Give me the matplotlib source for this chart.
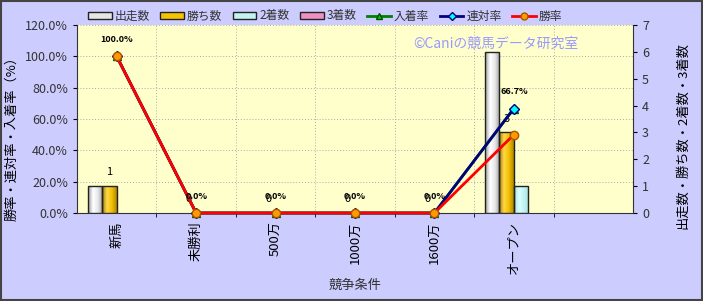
import numpy as np
import matplotlib.pyplot as plt
import matplotlib as mpl
from matplotlib.patches import Patch, Rectangle
from matplotlib.lines import Line2D
from matplotlib.colors import LinearSegmentedColormap

mpl.rcParams['font.family'] = ['Noto Sans CJK JP', 'DejaVu Sans']

# data
categories = ['新馬', '未勝利', '500万', '1000万', '1600万', 'オープン', '']
starts = [1, 0, 0, 0, 0, 6, 0]      # 出走数
wins = [1, 0, 0, 0, 0, 3, 0]        # 勝ち数
seconds = [0, 0, 0, 0, 0, 1, 0]     # 2着数
thirds = [0, 0, 0, 0, 0, 0, 0]      # 3着数
n_rated = 6
place_rate = [100.0, 0.0, 0.0, 0.0, 0.0, 66.7]   # 入着率
quin_rate = [100.0, 0.0, 0.0, 0.0, 0.0, 66.7]    # 連対率
win_rate = [100.0, 0.0, 0.0, 0.0, 0.0, 50.0]     # 勝率

bg = '#ccccff'
plot_bg = '#ffffcc'
text_c = '#333333'

fig = plt.figure(figsize=(7.03, 3.01), dpi=100, facecolor=bg)
ax = fig.add_axes([77 / 703, 1 - 213 / 301, 556 / 703, 188 / 301])
ax.set_facecolor(plot_bg)
x = np.arange(len(categories))

# back axis: percent scale + grid
ax.set_xlim(-0.5, len(categories) - 0.5)
ax.set_ylim(0, 120)
ax.set_yticks(np.arange(0, 121, 20))
ax.set_yticklabels([f'{v:.1f}%' for v in np.arange(0, 121, 20)], fontsize=9, color=text_c)
ax.set_xticks(x)
ax.set_xticklabels(categories, rotation=90, fontsize=9.5, color='black')
ax.set_xticks(x[:-1] + 0.5, minor=True)
ax.tick_params(axis='x', which='major', length=0, pad=6)
ax.tick_params(axis='x', which='minor', length=3)
ax.tick_params(axis='y', length=3)
ax.grid(True, axis='y', which='major', color='#aaaaaa', linestyle=(0, (1, 2)), linewidth=0.7)
ax.grid(True, axis='x', which='minor', color='#aaaaaa', linestyle=(0, (1, 2)), linewidth=0.7)
for s in ['top', 'right']:
    ax.spines[s].set_visible(False)
ax.spines['left'].set_color('#333333')
ax.spines['bottom'].set_color('#333333')

# bar axis: counts on the right
axr = ax.twinx()
for s in ['top', 'left', 'bottom']:
    axr.spines[s].set_visible(False)
axr.spines['right'].set_color('#333333')

w = 0.183
bar_cols = ['#e6e6e6', '#f5c400', '#c4f2f2', '#f090c0']
grads = [['#9a9a9a', '#ffffff', '#e8e8e8', '#a0a0a0'],
         ['#a07800', '#ffd84a', '#f0c000', '#b08800'],
         ['#a8e0e0', '#d8ffff', '#c4f2f2', '#a8e0e0'],
         ['#c06090', '#ffb0d8', '#f090c0', '#c06090']]
series = [starts, wins, seconds, thirds]
ramp = np.linspace(0, 1, 64).reshape(1, -1)
for i, (vals, col, gc) in enumerate(zip(series, bar_cols, grads)):
    lw = [1 if v > 0 else 0 for v in vals]
    bars = axr.bar(x + (i - 1.5) * w, vals, width=w, facecolor='none', edgecolor='#222222',
                   linewidth=lw, zorder=2)
    cmap = LinearSegmentedColormap.from_list(f'g{i}', gc)
    for b, v in zip(bars, vals):
        if v <= 0:
            continue
        im = axr.imshow(ramp, cmap=cmap, aspect='auto', zorder=1.5,
                        extent=[b.get_x(), b.get_x() + b.get_width(), 0, v])
        im.set_clip_path(b)
for xi, v in zip(x[:n_rated], wins[:n_rated]):
    axr.annotate(str(v), (xi - 0.5 * w, v), xytext=(0, 10), textcoords='offset points',
                 ha='center', va='center', fontsize=8, color='black')
axr.set_xlim(-0.5, len(categories) - 0.5)
axr.set_ylim(0, 7)
axr.set_yticks(range(8))
axr.tick_params(axis='y', labelsize=9, labelcolor=text_c, length=3)

# line axis on top
axl = ax.twinx()
axl.set_ylim(0, 120)
axl.axis('off')
xr = x[:n_rated]
axl.plot(xr, place_rate, color='#008000', lw=2, marker='^', ms=6, mfc='#00cc00', mec='#005000', clip_on=False)
axl.plot(xr, quin_rate, color='#000080', lw=2, marker='D', ms=5, mfc='#00ffff', mec='#000080', clip_on=False)
axl.plot(xr, win_rate, color='#ff0000', lw=2, marker='o', ms=6, mfc='#ff9900', mec='#aa5500', clip_on=False)
for xi, v in zip(xr, quin_rate):
    axl.annotate(f'{v:.1f}%', (xi, v), xytext=(0, 12), textcoords='offset points',
                 ha='center', va='center', fontsize=6.5, fontweight='bold', color='black')

# texts
fig.text(12 / 703, 0.55, '勝率・連対率・入着率（%）', rotation=90, ha='center', va='center',
         fontsize=9.5, color='black')
fig.text(683 / 703, 0.55, '出走数・勝ち数・2着数・3着数', rotation=90, ha='center', va='center',
         fontsize=9.5, color='black')
fig.text(0.505, 0.053, '競争条件', ha='center', va='center', fontsize=9.5, color=text_c)
fig.text(0.705, 0.855, '©Caniの競馬データ研究室', ha='center', va='center', fontsize=10,
         color='#9999ff')

handles = [
    Patch(facecolor=bar_cols[0], edgecolor='#222222', label='出走数'),
    Patch(facecolor=bar_cols[1], edgecolor='#222222', label='勝ち数'),
    Patch(facecolor=bar_cols[2], edgecolor='#222222', label='2着数'),
    Patch(facecolor=bar_cols[3], edgecolor='#222222', label='3着数'),
    Line2D([], [], color='#008000', lw=2, marker='^', ms=5, mfc='#00cc00', mec='#005000', label='入着率'),
    Line2D([], [], color='#000080', lw=2, marker='D', ms=4, mfc='#00ffff', mec='#000080', label='連対率'),
    Line2D([], [], color='#ff0000', lw=2, marker='o', ms=5, mfc='#ff9900', mec='#aa5500', label='勝率'),
]
fig.legend(handles=handles, loc='center left', bbox_to_anchor=(82 / 703, 1 - 16 / 301), ncol=7,
           frameon=False, fontsize=8.5, handlelength=2.0, handleheight=0.55, handletextpad=0.25,
           columnspacing=0.9, labelcolor=text_c, borderpad=0)

fig.add_artist(Rectangle((0.001, 0.002), 0.997, 0.995, transform=fig.transFigure, fill=False,
                         edgecolor='#444444', linewidth=1.5))

fig.savefig('out.png', dpi=100, facecolor=bg)
